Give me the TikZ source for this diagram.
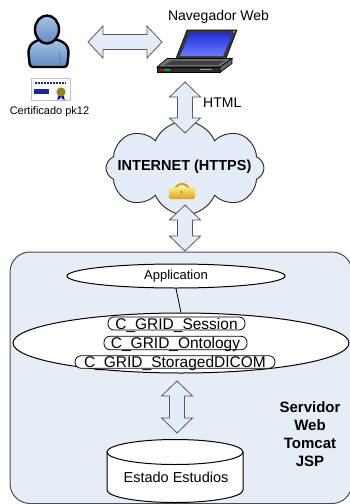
\documentclass[tikz,border=0pt]{standalone}
\usepackage{fontspec}
\setmainfont{Liberation Sans}
\usetikzlibrary{shapes.symbols,shapes.geometric}

\definecolor{panel}{HTML}{E7EDF7}
\definecolor{arrowfill}{HTML}{E4ECF7}
\definecolor{personlight}{HTML}{A9C3E6}
\definecolor{persondark}{HTML}{5F8BC4}
\definecolor{certblue}{HTML}{1B2A8C}
\definecolor{sealolive}{HTML}{8C8A1E}
\definecolor{screenA}{HTML}{2230D8}
\definecolor{screenB}{HTML}{6C7BFF}
\definecolor{goldA}{HTML}{FFE97A}
\definecolor{goldB}{HTML}{D9A21A}

% vertical double block arrow: x, top y, bottom y (pixels, measured downwards)
\newcommand{\vdblarrow}[3]{%
  \draw[blockarrow] ({#1},{-#2}) -- ({#1+15.5},{-#2-15}) -- ({#1+7.5},{-#2-15})
    -- ({#1+7.5},{-#3+15}) -- ({#1+15.5},{-#3+15}) -- ({#1},{-#3})
    -- ({#1-15.5},{-#3+15}) -- ({#1-7.5},{-#3+15}) -- ({#1-7.5},{-#2-15})
    -- ({#1-15.5},{-#2-15}) -- cycle;}

\begin{document}
\begin{tikzpicture}[x=1pt,y=1pt,
  blockarrow/.style={fill=arrowfill, draw=black!65, line width=0.8pt, line join=miter},
  panelbox/.style={fill=panel, draw=black!70, line width=1pt},
  oval/.style={ellipse, draw=black, fill=white, line width=1pt, inner sep=0pt},
  pill/.style={rectangle, draw=black, fill=white, line width=0.8pt, rounded corners=6pt,
    inner sep=0pt, text height=11pt, text depth=0pt, font=\fontsize{15.5}{17}\selectfont},
  lbl/.style={inner sep=0pt, font=\fontsize{14}{16}\selectfont},
  personline/.style={draw=black, line width=2.4pt, top color=personlight, bottom color=persondark}
]
\useasboundingbox (0,0) rectangle (350,-504);

% ---- server panel ----
\draw[panelbox, rounded corners=20pt] (10,-252) rectangle (352,-503.5);

% ---- user ----
\draw[personline, rounded corners=3pt] (30,-67) -- (28.5,-54)
  .. controls (28.5,-44) and (37,-39) .. (48,-39)
  .. controls (60,-39) and (68.5,-44) .. (68.5,-54) -- (67,-67) -- cycle;
\draw[black!55, line width=0.6pt] (59.5,-52) -- (60,-65);
\draw[personline] (47,-29.5) ellipse (12 and 14);
\coordinate (user) at (48,-42);

% certificate
\draw[draw=black!25, fill=white, line width=0.6pt] (31,-78) rectangle (70,-100);
\draw[certblue, line width=1.3pt, dash pattern=on 2.2pt off 0.8pt] (35,-83) -- (66,-83);
\fill[certblue] (34,-89) rectangle (49,-93.5);
\fill[blue!80!black] (58.6,-95) -- (57.2,-100) -- (60.2,-98.6) -- (61,-96) -- cycle;
\fill[blue!80!black] (63.4,-95) -- (64.8,-100) -- (61.8,-98.6) -- (61,-96) -- cycle;
\fill[sealolive] (61,-92) circle (4.6);
\node[inner sep=0pt, font=\fontsize{11}{13}\selectfont] (cert) at (49.5,-112) {Certificado pk12};

% ---- laptop ----
\node[lbl] (browser) at (218.5,-17) {Navegador Web};
\draw[fill=black!78, line width=0.6pt] (187,-30) -- (237,-30) -- (226,-58.5) -- (176,-58.5) -- cycle;
\shade[top color=screenA, bottom color=screenB] (190,-33) -- (233,-33) -- (223,-56) -- (180,-56) -- cycle;
\fill[orange] (234,-31.8) circle (1.1);
\draw[fill=black!55, line width=0.6pt] (167,-58.5) -- (232,-58.5) -- (220,-67) -- (157,-67) -- cycle;
\fill[black!75] (172,-60.5) -- (225,-60.5) -- (218,-65.2) -- (164,-65.2) -- cycle;
\draw[fill=black!82, line width=0.6pt] (157,-67) -- (220,-67) -- (220,-72.5) -- (157,-72.5) -- cycle;
\draw[fill=black!62, line width=0.6pt] (220,-67) -- (232,-58.5) -- (232,-63.5) -- (220,-72.5) -- cycle;
\fill[red!85!black] (159.5,-69.3) rectangle (162.5,-70.6);
\fill[green!70!black] (163.5,-69.3) rectangle (169.5,-70.6);
\fill[black!40] (200,-69.3) rectangle (212,-70.3);
\coordinate (laptop) at (200,-50);

% user <-> browser
\draw[blockarrow] (88,-42) -- (103,-26) -- (103,-34.5) -- (147,-34.5) -- (147,-26)
  -- (162,-42) -- (147,-58) -- (147,-49.5) -- (103,-49.5) -- (103,-58) -- cycle;

% ---- internet cloud ----
\node[cloud, draw=black!85, fill=arrowfill, line width=0.9pt, cloud puffs=8,
  cloud puff arc=135, aspect=1.6, minimum width=158pt, minimum height=94pt, inner sep=0pt,
  shape border rotate=90]
  (net) at (185,-168) {};
\node[inner sep=0pt, font=\bfseries\fontsize{14.5}{16}\selectfont] (nettext) at (184.5,-167) {INTERNET (HTTPS)};

% padlock
\draw[goldB, line width=2pt] (175.5,-189) arc (180:0:6.5 and 5);
\shade[top color=goldA, bottom color=goldB, rounded corners=2pt] (169,-187.5) rectangle (195,-199);
\fill[goldB!70!black] (181.5,-192) circle (1.2);

% browser <-> internet <-> server
\vdblarrow{185}{82}{133}
\node[lbl, anchor=west] (html) at (203,-102.5) {HTML};
\vdblarrow{185}{205}{251}

% ---- server contents ----
\node[oval, minimum width=218pt, minimum height=24pt, font=\fontsize{13}{15}\selectfont]
  (app) at (176,-276) {Application};
\node[oval, minimum width=336pt, minimum height=60pt] (core) at (181,-343) {};
\draw[line width=0.8pt] (app.south) -- (core.north);
\node[pill, minimum width=137pt, minimum height=13pt] (sess) at (176.5,-323.5) {C\_GRID\_Session};
\node[pill, minimum width=143pt, minimum height=13.5pt] (onto) at (175.5,-343) {C\_GRID\_Ontology};
\node[pill, minimum width=200pt, minimum height=12.5pt] (dicom) at (175,-362) {C\_GRID\_StoragedDICOM};

\vdblarrow{177}{381}{433}

% study database
\draw[fill=white, line width=1pt] (107,-452) -- (107,-490)
  arc[start angle=180, end angle=360, x radius=68, y radius=12.5] -- (243,-452);
\draw[fill=white, line width=1pt] (175,-452) ellipse (68 and 12.5);
\node[lbl, font=\fontsize{14.5}{16}\selectfont] (db) at (176,-477) {Estado Estudios};

\node[inner sep=0pt, align=center, font=\bfseries\fontsize{15}{17.8}\selectfont]
  (srv) at (310,-434) {Servidor\\Web\\Tomcat\\JSP};
\end{tikzpicture}
\end{document}
